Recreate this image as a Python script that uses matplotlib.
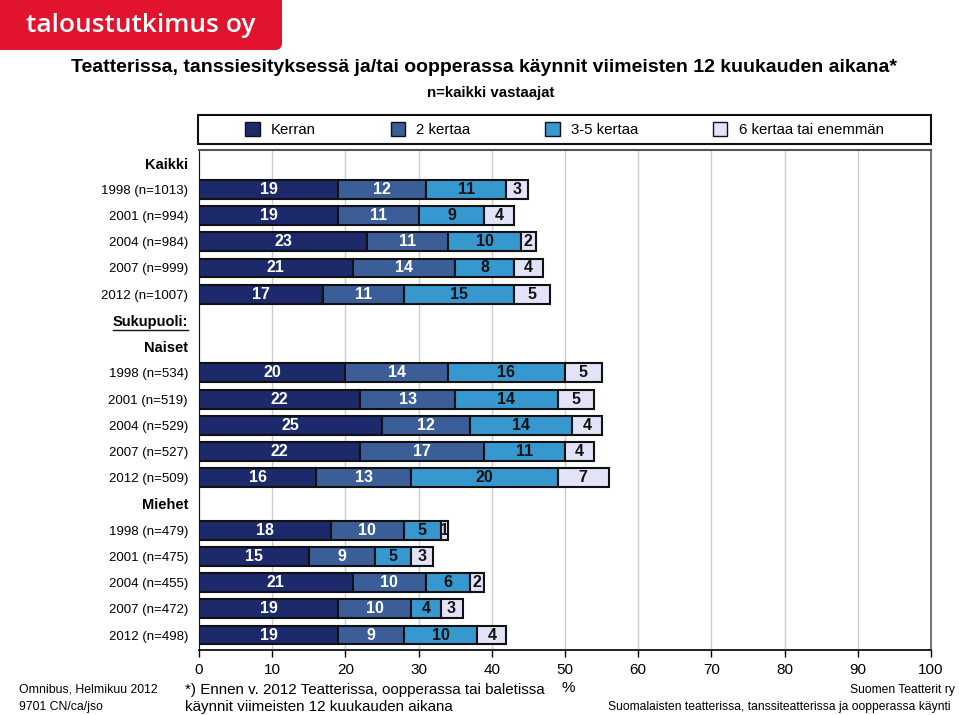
import numpy as np
import matplotlib
matplotlib.use("Agg")
import matplotlib.pyplot as plt
from matplotlib.patches import Rectangle, FancyBboxPatch, Patch
from matplotlib.lines import Line2D

plt.rcParams['font.family'] = ['Liberation Sans', 'DejaVu Sans']

# ---- data ----
row_labels = ['Kaikki',
              '1998 (n=1013)', '2001 (n=994)', '2004 (n=984)', '2007 (n=999)', '2012 (n=1007)',
              'Sukupuoli:', 'Naiset',
              '1998 (n=534)', '2001 (n=519)', '2004 (n=529)', '2007 (n=527)', '2012 (n=509)',
              'Miehet',
              '1998 (n=479)', '2001 (n=475)', '2004 (n=455)', '2007 (n=472)', '2012 (n=498)']
headings = ['Kaikki', 'Sukupuoli:', 'Naiset', 'Miehet']

series_names = ['Kerran', '2 kertaa', '3-5 kertaa', '6 kertaa tai enemmän']
kerran      = [19, 19, 23, 21, 17, 20, 22, 25, 22, 16, 18, 15, 21, 19, 19]
kaksi       = [12, 11, 11, 14, 11, 14, 13, 12, 17, 13, 10, 9, 10, 10, 9]
kolme_viisi = [11, 9, 10, 8, 15, 16, 14, 14, 11, 20, 5, 5, 6, 4, 10]
kuusi       = [3, 4, 2, 4, 5, 5, 5, 4, 4, 7, 1, 3, 2, 3, 4]

colors = ['#1c2a6c', '#3b5e98', '#3698cf', '#e3e3f8']
text_colors = ['white', 'white', '#111111', '#111111']

# ---- figure ----
W, H = 959, 715
fig = plt.figure(figsize=(W / 100, H / 100), dpi=100)
ax = fig.add_axes([199 / W, 1 - 650 / H, (931 - 199) / W, 500 / H])

data_rows = [i for i, l in enumerate(row_labels) if l not in headings]
ypos = np.array(data_rows)
left = np.zeros(len(ypos))
for vals, c, tc in zip([kerran, kaksi, kolme_viisi, kuusi], colors, text_colors):
    vals = np.array(vals, dtype=float)
    bars = ax.barh(ypos, vals, left=left, height=0.72, color=c,
                   edgecolor='#111111', linewidth=1.5, zorder=3)
    for b, v in zip(bars, vals):
        ax.text(b.get_x() + b.get_width() / 2, b.get_y() + b.get_height() / 2,
                f'{int(v)}', ha='center', va='center', color=tc,
                fontsize=11.5, fontweight='bold', zorder=4)
    left += vals

ax.set_xlim(0, 100)
ax.set_ylim(18.57, -0.5)
ax.set_xticks(np.arange(0, 101, 10))
ax.set_xticklabels([str(v) for v in range(0, 101, 10)], fontsize=11)
ax.tick_params(axis='x', length=5, width=1, pad=4)
ax.set_yticks(range(len(row_labels)))
ax.set_yticklabels(row_labels, fontsize=9.5)
ax.tick_params(axis='y', length=0, pad=8)
for t in ax.get_yticklabels():
    if t.get_text() in headings:
        t.set_fontweight('bold')
        t.set_fontsize(10.5)

ax.grid(axis='x', color='#cccccc', linewidth=1, zorder=0)
ax.set_axisbelow(True)
ax.spines['left'].set_color('#111111')
ax.spines['bottom'].set_color('#111111')
ax.spines['bottom'].set_linewidth(1.3)
ax.spines['top'].set_color('#555555')
ax.spines['top'].set_linewidth(1.5)
ax.spines['right'].set_color('#777777')
ax.spines['right'].set_linewidth(1.5)

# ---- overlay in pixel coordinates ----
ov = fig.add_axes([0, 0, 1, 1], zorder=5)
ov.set_xlim(0, W)
ov.set_ylim(H, 0)
ov.axis('off')
ov.patch.set_alpha(0)

# logo
ov.add_patch(FancyBboxPatch((-20, -20), 302, 70, boxstyle='round,pad=0,rounding_size=7',
                            facecolor='#e2142d', edgecolor='none'))
ov.text(26, 25, 'taloustutkimus oy', color='white', fontsize=19, fontweight='semibold',
        family=['Open Sans', 'DejaVu Sans'], ha='left', va='center')

ov.text(484, 68, 'Teatterissa, tanssiesityksessä ja/tai oopperassa käynnit viimeisten 12 kuukauden aikana*',
        ha='center', va='center', fontsize=14, fontweight='bold')
ov.text(491, 93, 'n=kaikki vastaajat', ha='center', va='center', fontsize=10.8, fontweight='bold')

# legend
ov.add_patch(Rectangle((198, 115), 733, 29, facecolor='white', edgecolor='#111111', linewidth=1.5))
handles = [Patch(facecolor=c, edgecolor='#111111', linewidth=1) for c in colors]
fig.legend(handles, series_names, loc='center', ncol=4,
           bbox_to_anchor=(198 / W, 1 - 144 / H, 733 / W, 29 / H),
           frameon=False, fontsize=10.8, handlelength=0.95, handleheight=1.0,
           handletextpad=0.75, columnspacing=5.0)

# underline for "Sukupuoli:"
fig.canvas.draw()
r = fig.canvas.get_renderer()
for t in ax.get_yticklabels():
    if t.get_text() == 'Sukupuoli:':
        bb = t.get_window_extent(r)
        yline = H - bb.y0 + 1
        ov.add_line(Line2D([bb.x0, bb.x1], [yline, yline], color='#111111', linewidth=1))

# footer
ov.text(19, 690, 'Omnibus, Helmikuu 2012', fontsize=8.8, va='center')
ov.text(19, 707, '9701 CN/ca/jso', fontsize=8.8, va='center')
ov.text(185, 690, '*) Ennen v. 2012 Teatterissa, oopperassa tai baletissa', fontsize=10.9, va='center')
ov.text(185, 707, 'käynnit viimeisten 12 kuukauden aikana', fontsize=10.9, va='center')
ov.text(568, 688, '%', fontsize=11, va='center', ha='center')
ov.text(955, 690, 'Suomen Teatterit ry', fontsize=8.7, va='center', ha='right')
ov.text(951, 707, 'Suomalaisten teatterissa, tanssiteatterissa ja oopperassa käynti',
        fontsize=8.7, va='center', ha='right')

fig.savefig('out.png', dpi=100)
